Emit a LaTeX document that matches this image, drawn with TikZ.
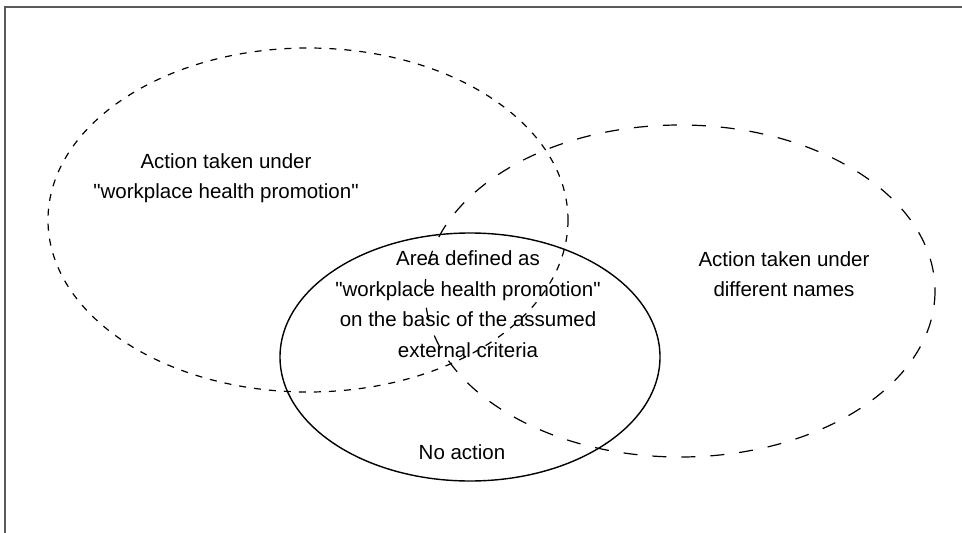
\documentclass[tikz,border=0pt]{standalone}
\usepackage{fontspec}
\newfontfamily\lbfont{Liberation Sans}
\begin{document}
\begin{tikzpicture}[x=1pt,y=-1pt,
  lbl/.style={align=center,font=\lbfont\fontsize{20.5}{30.5}\selectfont,inner sep=0pt},
  shortdash/.style={line width=1.2pt,dash pattern=on 7pt off 8pt},
  longdash/.style={line width=1.2pt,dash pattern=on 14pt off 15pt},
  solidring/.style={line width=1.4pt}]
\useasboundingbox (0,0) rectangle (962,533);
\draw[line width=1.6pt,black!65] (5,533) -- (5,7) -- (962,7);
\draw[shortdash] (308,220) ellipse [x radius=260, y radius=172];
\draw[longdash] (680,291) ellipse [x radius=255, y radius=166];
\draw[solidring] (470,357) ellipse [x radius=190, y radius=124];
\node[lbl] (left) at (226,178) {Action taken under\\"workplace health promotion"};
\node[lbl] (right) at (784,274) {Action taken under\\different names};
\node[lbl] (mid) at (468,304) {Area defined as\\"workplace health promotion"\\on the basic of the assumed\\external criteria};
\node[lbl] (none) at (462,452) {No action};
\end{tikzpicture}
\end{document}
